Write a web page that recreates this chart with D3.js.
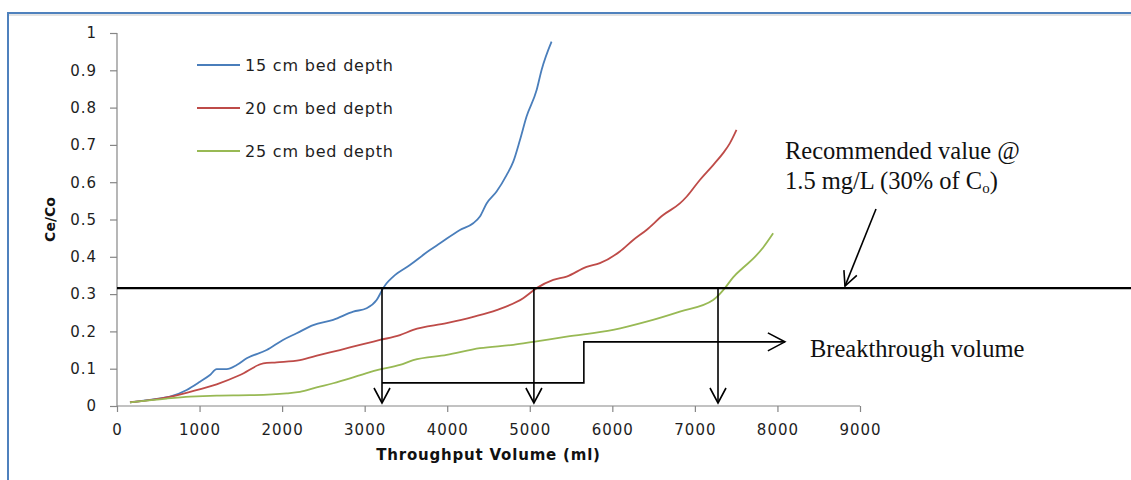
<!DOCTYPE html>
<html>
<head>
<meta charset="utf-8">
<script src="https://cdn.jsdelivr.net/npm/d3@7"></script>
<style>
  body { margin: 0; background: #fff; }
  svg { display: block; }
</style>
</head>
<body>
<div id="chart"></div>
<script>
// throughput volume (ml) and Ce/Co
var vol15 = [157, 481, 642, 844, 1005, 1126, 1207, 1328, 1450, 1571, 1813, 2010, 2176, 2377, 2619, 2862, 3024, 3145, 3225, 3266, 3346, 3548, 3790, 3912, 4154, 4315, 4396, 4477, 4598, 4719, 4800, 4881, 4961, 5083, 5143, 5264];
var ratio15 = [0.010, 0.019, 0.025, 0.043, 0.065, 0.083, 0.099, 0.099, 0.110, 0.128, 0.150, 0.177, 0.195, 0.217, 0.231, 0.253, 0.262, 0.284, 0.316, 0.329, 0.347, 0.378, 0.418, 0.436, 0.472, 0.490, 0.508, 0.543, 0.575, 0.619, 0.655, 0.713, 0.776, 0.847, 0.901, 0.977];

var vol20 = [157, 602, 884, 1207, 1490, 1772, 1934, 2216, 2458, 2700, 2943, 3185, 3427, 3588, 3993, 4315, 4598, 4920, 5083, 5284, 5446, 5688, 5849, 6091, 6253, 6414, 6616, 6818, 6899, 7060, 7221, 7342, 7423, 7504];
var ratio20 = [0.010, 0.023, 0.038, 0.058, 0.083, 0.114, 0.117, 0.123, 0.137, 0.150, 0.164, 0.177, 0.190, 0.204, 0.222, 0.239, 0.257, 0.289, 0.316, 0.338, 0.347, 0.373, 0.383, 0.414, 0.445, 0.472, 0.512, 0.543, 0.561, 0.606, 0.646, 0.678, 0.704, 0.740];

var vol25 = [157, 602, 884, 1207, 1611, 2055, 2216, 2418, 2619, 2822, 3024, 3185, 3427, 3588, 3993, 4396, 4800, 5042, 5446, 6010, 6414, 6818, 7221, 7300, 7363, 7463, 7580, 7706, 7827, 7948];
var ratio25 = [0.010, 0.020, 0.025, 0.028, 0.029, 0.034, 0.038, 0.050, 0.061, 0.074, 0.088, 0.098, 0.110, 0.123, 0.137, 0.155, 0.164, 0.172, 0.186, 0.204, 0.226, 0.253, 0.284, 0.300, 0.316, 0.345, 0.370, 0.395, 0.425, 0.463];

var seriesNames = ["15 cm bed depth", "20 cm bed depth", "25 cm bed depth"];
var seriesColors = ["#4a7ebb", "#be4b48", "#98b954"];

var xTicks = [0, 1000, 2000, 3000, 4000, 5000, 6000, 7000, 8000, 9000];
var yTicks = [0, 0.1, 0.2, 0.3, 0.4, 0.5, 0.6, 0.7, 0.8, 0.9, 1];

// annotation values
var limitRatio = 0.316;                 // recommended value line
var breakVolumes = [3210, 5050, 7280];  // breakthrough volumes
var bracketLow = 0.062, bracketHigh = 0.172, bracketStep = 5655, bracketEnd = 8090;

const width = 1131;
const height = 480;

var svg = d3.select("#chart").append("svg")
    .attr("width", width)
    .attr("height", height);

// frame round the figure (runs off the right and bottom)
svg.append("rect")
    .attr("x", 8).attr("y", 13)
    .attr("width", 1300).attr("height", 600)
    .attr("fill", "none")
    .attr("stroke", "#4f81bd")
    .attr("stroke-width", 2);
svg.append("line")
    .attr("x1", 9).attr("x2", width).attr("y1", 15).attr("y2", 15)
    .attr("stroke", "#c8c8c8").attr("stroke-width", 1);

var x = d3.scaleLinear().domain([0, 9000]).range([117, 860]);
var y = d3.scaleLinear().domain([0, 1]).range([406, 33]);

var xAxis = svg.append("g")
    .attr("transform", `translate(0, ${y(0)})`)
    .call(d3.axisBottom(x).tickValues(xTicks).tickSize(6).tickPadding(12).tickFormat(d3.format("d")));

var yAxis = svg.append("g")
    .attr("transform", `translate(${x(0)}, 0)`)
    .call(d3.axisLeft(y).tickValues(yTicks).tickSize(7).tickPadding(13).tickFormat(d3.format("~g")));

[xAxis, yAxis].forEach(function(ax) {
    ax.select(".domain").attr("stroke", "#868686").attr("stroke-width", 1.2);
    ax.selectAll(".tick line").attr("stroke", "#868686").attr("stroke-width", 1.2);
    ax.selectAll(".tick text")
        .attr("fill", "#1e1e1e")
        .style("font-family", "DejaVu Sans")
        .style("font-size", "15px")
        .style("letter-spacing", "1px");
});
// no outer ticks beyond 0..1 / 0..9000
yAxis.select(".domain").attr("d", `M0,${y(1)}V${y(0)}`);
xAxis.select(".domain").attr("d", `M${x(0)},0H${x(9000)}`);

// axis titles
svg.append("text")
    .attr("x", (x(0) + x(9000)) / 2)
    .attr("y", 460)
    .attr("text-anchor", "middle")
    .style("font-family", "DejaVu Sans")
    .style("font-weight", "bold")
    .style("font-size", "15px")
    .style("letter-spacing", "0.8px")
    .attr("fill", "#111")
    .text("Throughput Volume (ml)");

svg.append("text")
    .attr("transform", `translate(55, ${(y(0) + y(1)) / 2}) rotate(-90)`)
    .attr("text-anchor", "middle")
    .style("font-family", "DejaVu Sans")
    .style("font-weight", "bold")
    .style("font-size", "14px")
    .attr("fill", "#111")
    .text("Ce/Co");

// curves
var series = [
    vol15.map((v, i) => ({v: v, c: ratio15[i]})),
    vol20.map((v, i) => ({v: v, c: ratio20[i]})),
    vol25.map((v, i) => ({v: v, c: ratio25[i]}))
];

var line = d3.line()
    .x((d) => x(d.v))
    .y((d) => y(d.c))
    .curve(d3.curveMonotoneX);

svg.selectAll("path.curve")
    .data(series)
    .enter()
    .append("path")
    .attr("class", "curve")
    .attr("d", line)
    .attr("fill", "none")
    .attr("stroke", (d, i) => seriesColors[i])
    .attr("stroke-width", 1.8);

// legend
var legend = svg.selectAll("g.legend")
    .data(seriesNames)
    .enter()
    .append("g")
    .attr("class", "legend")
    .attr("transform", (d, i) => `translate(197, ${65 + i * 43})`);

legend.append("line")
    .attr("x1", 0).attr("x2", 43)
    .attr("stroke", (d, i) => seriesColors[i])
    .attr("stroke-width", 2);

legend.append("text")
    .attr("x", 48)
    .attr("dy", "0.36em")
    .style("font-family", "DejaVu Sans")
    .style("font-size", "16px")
    .style("letter-spacing", "0.8px")
    .attr("fill", "#1e1e1e")
    .text((d) => d);

// annotations
var ink = svg.append("g").attr("stroke", "#000").attr("fill", "none");

ink.append("line")
    .attr("x1", x(0)).attr("x2", width)
    .attr("y1", y(limitRatio)).attr("y2", y(limitRatio))
    .attr("stroke-width", 2.2);

breakVolumes.forEach(function(v) {
    var tip = y(0) - 3;
    ink.append("line")
        .attr("x1", x(v)).attr("x2", x(v))
        .attr("y1", y(limitRatio)).attr("y2", tip)
        .attr("stroke-width", 1.6);
    ink.append("path")
        .attr("d", `M${x(v) - 8},${tip - 15}L${x(v)},${tip}L${x(v) + 8},${tip - 15}`)
        .attr("stroke-width", 1.6);
});

// step line pointing to the breakthrough label
ink.append("path")
    .attr("d", `M${x(breakVolumes[0])},${y(bracketLow)}H${x(bracketStep)}V${y(bracketHigh)}H${x(bracketEnd)}`)
    .attr("stroke-width", 1.6);
ink.append("path")
    .attr("d", `M${x(bracketEnd) - 17},${y(bracketHigh) - 9}L${x(bracketEnd)},${y(bracketHigh)}L${x(bracketEnd) - 17},${y(bracketHigh) + 9}`)
    .attr("stroke-width", 1.6);

// arrow from the recommended value note down to the line
var ax1 = 876, ay1 = 209, ax2 = 845, ay2 = y(limitRatio) - 2;
ink.append("line")
    .attr("x1", ax1).attr("y1", ay1).attr("x2", ax2).attr("y2", ay2)
    .attr("stroke-width", 1.6);
var ang = Math.atan2(ay2 - ay1, ax2 - ax1);
var headLen = 16, spread = 0.45;
ink.append("path")
    .attr("d", `M${ax2 - headLen * Math.cos(ang - spread)},${ay2 - headLen * Math.sin(ang - spread)}` +
               `L${ax2},${ay2}` +
               `L${ax2 - headLen * Math.cos(ang + spread)},${ay2 - headLen * Math.sin(ang + spread)}`)
    .attr("stroke-width", 1.6);

var serif = "Liberation Serif, Times New Roman, serif";

svg.append("text")
    .attr("x", 785).attr("y", 159)
    .style("font-family", serif)
    .style("font-size", "24.5px")
    .attr("fill", "#111")
    .text("Recommended value @");

var note2 = svg.append("text")
    .attr("x", 785).attr("y", 189)
    .style("font-family", serif)
    .style("font-size", "24.5px")
    .attr("fill", "#111");
note2.append("tspan").text("1.5 mg/L (30% of C");
note2.append("tspan").attr("dy", 4).style("font-size", "15px").text("o");
note2.append("tspan").attr("dy", -4).text(")");

svg.append("text")
    .attr("x", 810).attr("y", 357)
    .style("font-family", serif)
    .style("font-size", "24.5px")
    .attr("fill", "#111")
    .text("Breakthrough volume");
</script>
</body>
</html>
